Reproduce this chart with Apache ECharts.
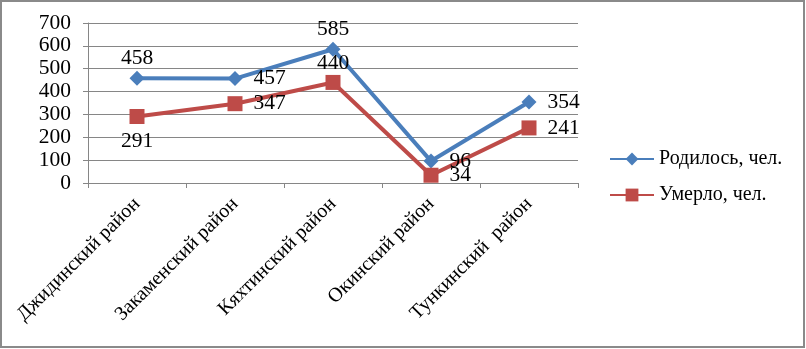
<!DOCTYPE html>
<html>
<head>
<meta charset="utf-8">
<script src="https://cdn.jsdelivr.net/npm/echarts@6/dist/echarts.min.js"></script>
<style>html,body{margin:0;padding:0;background:#fff}#c{width:806px;height:349px}</style>
</head>
<body>
<div id="c"></div>
<script>
const categories = ['Джидинский район', 'Закаменский район', 'Кяхтинский район', 'Окинский район', 'Тункинский  район'];
const born = [458, 457, 585, 96, 354];
const died = [291, 347, 440, 34, 241];
const bornLabelPos = ['top', 'right', 'top', 'right', 'right'];
const diedLabelPos = ['bottom', 'right', 'top', 'right', 'right'];
const yTicks = [0, 100, 200, 300, 400, 500, 600, 700];

const font = 'Liberation Serif';
const labelDist = { top: 1, bottom: 6, right: 11 };
function mk(values, positions) {
  return values.map((v, i) => ({ value: v, label: { position: positions[i], distance: labelDist[positions[i]] } }));
}
const chart = echarts.init(document.getElementById('c'));
chart.setOption({
  animation: false,
  backgroundColor: '#fff',
  graphic: [{
    type: 'rect', shape: { x: 1, y: 1, width: 803, height: 346 },
    style: { fill: 'none', stroke: '#8a8a8a', lineWidth: 2 }, silent: true
  }],
  grid: { left: 88, right: 228, top: 23, bottom: 166 },
  legend: {
    orient: 'vertical', left: 604, top: 144, itemWidth: 44, itemHeight: 16, itemGap: 16,
    textStyle: { fontFamily: font, fontSize: 20, color: '#000' },
    data: ['Родилось, чел.', 'Умерло, чел.']
  },
  xAxis: {
    type: 'category', data: categories, boundaryGap: true,
    axisLine: { lineStyle: { color: '#868686', width: 1 } },
    axisTick: { show: true, length: 5, lineStyle: { color: '#868686' } },
    axisLabel: { rotate: 45, fontFamily: font, fontSize: 20, color: '#000', margin: 18, interval: 0 }
  },
  yAxis: {
    type: 'value', min: yTicks[0], max: yTicks[yTicks.length - 1], interval: 100,
    axisLine: { show: true, lineStyle: { color: '#868686' } },
    axisTick: { show: true, length: 5, inside: false, lineStyle: { color: '#868686' } },
    splitLine: { lineStyle: { color: '#868686', width: 1 } },
    axisLabel: { fontFamily: font, fontSize: 21.5, color: '#000', margin: 17 }
  },
  series: [{
    name: 'Родилось, чел.', type: 'line', data: mk(born, bornLabelPos),
    symbol: 'diamond', symbolSize: 15, color: '#4A7EBB',
    lineStyle: { width: 4, color: '#4A7EBB' }, itemStyle: { color: '#4A7EBB' },
    label: { show: true, fontFamily: font, fontSize: 21.5, color: '#000' }
  }, {
    name: 'Умерло, чел.', type: 'line', data: mk(died, diedLabelPos),
    symbol: 'rect', symbolSize: 15, color: '#BE4B48',
    lineStyle: { width: 4, color: '#BE4B48' }, itemStyle: { color: '#BE4B48' },
    label: { show: true, fontFamily: font, fontSize: 21.5, color: '#000' }
  }]
});
</script>
</body>
</html>
